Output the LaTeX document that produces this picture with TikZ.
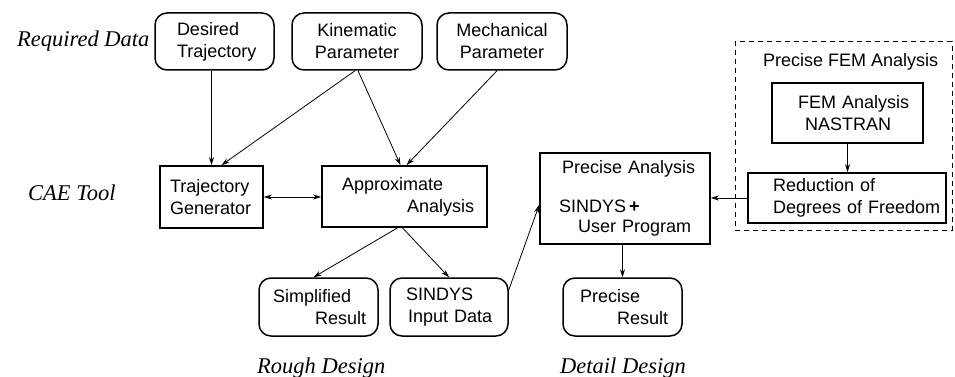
\documentclass[tikz,border=0pt]{standalone}
\usepackage{fontspec}
\setmainfont{Liberation Sans}
\newfontfamily\tmsit{Liberation Serif}[ItalicFont={Liberation Serif Italic}]
\usetikzlibrary{arrows.meta,calc}
\begin{document}
\begin{tikzpicture}[x=1pt,y=-1pt,
  every node/.style={font=\fontsize{18}{22}\selectfont},
  rbox/.style={draw, line width=1.5pt, rounded corners=12pt, inner xsep=0pt, inner ysep=0pt, align=left},
  sbox/.style={draw, line width=1.7pt, inner xsep=0pt, inner ysep=0pt, align=left},
  lbl/.style={font=\tmsit\itshape\fontsize{22.5}{26}\selectfont, anchor=base west, inner sep=0pt},
  arr/.style={line width=0.8pt, -{Stealth[length=8pt,width=5pt]}},
  darr/.style={line width=0.8pt, {Stealth[length=8pt,width=5pt]}-{Stealth[length=8pt,width=5pt]}}
]
\useasboundingbox (0,0) rectangle (955,377);

% labels
\node[lbl] (lreq) at (17,47) {Required Data};
\node[lbl] (lcae) at (28,200) {CAE Tool};
\node[lbl] (lrough) at (257,373) {Rough Design};
\node[lbl] (ldetail) at (560,373) {Detail Design};

% required data
\node[rbox, text width=119pt, minimum height=57pt] (des) at (214.5,41.5)
  {\hspace*{22pt}Desired\\\hspace*{22pt}Trajectory};
\node[rbox, align=center, text width=130pt, minimum height=57pt] (kin) at (357,41.5)
  {Kinematic\\Parameter};
\node[rbox, align=center, text width=130pt, minimum height=57pt] (mech) at (502,41.5)
  {Mechanical\\Parameter};

% CAE tools
\node[sbox, text width=103pt, minimum height=62pt] (tg) at (211.5,197)
  {\hspace*{10pt}Trajectory\\\hspace*{10pt}Generator};
\node[sbox, text width=165pt, minimum height=61pt] (approx) at (404.5,196.5)
  {\hspace*{20pt}Approximate\\\hspace*{85pt}Analysis};

% results
\node[rbox, text width=119pt, minimum height=58pt] (simp) at (318.5,307)
  {\hspace*{14pt}Simplified\\\hspace*{56pt}Result};
\node[rbox, text width=118pt, minimum height=58pt] (sind) at (449,307)
  {\hspace*{16pt}SINDYS\\\hspace*{18pt}Input Data};
\node[rbox, text width=119pt, minimum height=58pt] (pres) at (622.5,307)
  {\hspace*{17pt}Precise\\\hspace*{54pt}Result};

% precise analysis
\node[sbox, text width=170pt, minimum height=91pt] (pa) at (625,198.5)
  {\hspace*{22pt}Precise Analysis\\[17pt]\hspace*{19pt}SINDYS\,{\bfseries +}\\[-2pt]\hspace*{38pt}User Program};

% FEM group
\node[draw, line width=1pt, dash pattern=on 5pt off 4pt, minimum width=217pt, minimum height=188pt, inner sep=0pt] (grp) at (843.5,136) {};
\node[anchor=base west, inner sep=0pt] (grpt) at (763,67) {Precise FEM Analysis};
\node[sbox, text width=151pt, minimum height=60pt] (fem) at (847.5,113)
  {\hspace*{26pt}FEM Analysis\\\hspace*{33pt}NASTRAN};
\node[sbox, fill=white, text width=198pt, minimum height=50pt] (red) at (847,198)
  {\hspace*{25pt}Reduction of\\\hspace*{25pt}Degrees of Freedom};

% connectors
\draw[arr] (des.south -| tg.north) -- (tg.north);
\draw[arr] ($(kin.south)+(-2,0)$) -- ($(tg.north)+(10,0)$);
\draw[arr] ($(kin.south)+(1,0)$) -- ($(approx.north)+(-4,0)$);
\draw[arr] ($(mech.south)+(-5,0)$) -- ($(approx.north)+(2,0)$);
\draw[darr] (tg.east) -- (tg.east -| approx.west);
\draw[arr] ($(approx.south)+(-7,0)$) -- ($(simp.north)+(-5,0)$);
\draw[arr] ($(approx.south)+(-2,0)$) -- (sind.north);
\draw[arr] ($(sind.east)+(0,-17)$) -- ($(pa.west)+(0,6.5)$);
\draw[arr] (pa.south -| pres.north) -- (pres.north);
\draw[arr] (fem.south) -- (fem.south |- red.north);
\draw[arr] (red.west) -- (pa.east |- red.west);
\end{tikzpicture}
\end{document}
